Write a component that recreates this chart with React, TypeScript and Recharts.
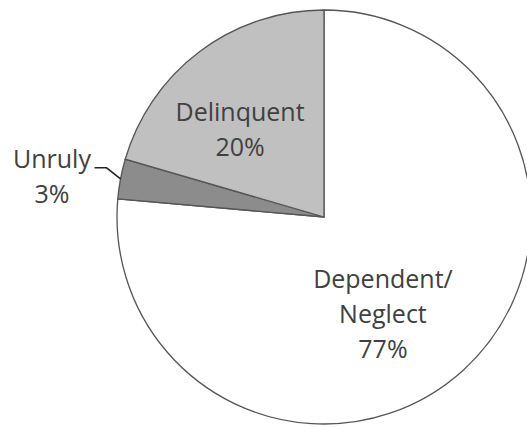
import React from "react";
import { PieChart, Pie, Cell } from "recharts";

const categories = ["Dependent/\nNeglect", "Unruly", "Delinquent"];
const shares = [76.4, 3.1, 20.5];
const percentLabels = ["77%", "3%", "20%"];
const fills = ["#ffffff", "#8c8c8c", "#c0c0c0"];

const data = categories.map((name, i) => ({ name, value: shares[i] }));

// label placement: radius (px) from centre, angle shift from slice mid-angle (deg)
const labelLayout = [
  { r: 113.5, shift: -11.2, leader: false },
  { r: 275, shift: 2.2, leader: true },
  { r: 120.6, shift: 7.2, leader: false },
];

const RADIAN = Math.PI / 180;
const LINE = 35;
const FONT = 25;

const renderLabel = (props: any) => {
  const { cx, cy, midAngle, outerRadius, index } = props;
  const lay = labelLayout[index];
  const a = (midAngle + lay.shift) * RADIAN;
  const x = cx + lay.r * Math.cos(-a);
  const y = cy + lay.r * Math.sin(-a);
  const lines = [...categories[index].split("\n"), percentLabels[index]];
  const n = lines.length;
  let leader = null;
  if (lay.leader) {
    const ex = cx + outerRadius * Math.cos(-midAngle * RADIAN);
    const ey = cy + outerRadius * Math.sin(-midAngle * RADIAN);
    const mx = ex - 14;
    const my = ey - 11;
    leader = (
      <path
        d={`M${ex},${ey} L${mx},${my} L${mx - 12},${my}`}
        stroke="#222"
        strokeWidth={1.5}
        fill="none"
      />
    );
  }
  return (
    <g>
      {leader}
      <text
        x={x}
        y={y}
        textAnchor="middle"
        fill="#404040"
        fontFamily="'Open Sans', sans-serif"
        fontSize={FONT}
      >
        {lines.map((t, i) => (
          <tspan key={i} x={x} y={y + (i - (n - 1) / 2) * LINE + 8.5}>
            {t}
          </tspan>
        ))}
      </text>
    </g>
  );
};

export default function App() {
  return (
    <div style={{ position: "absolute", left: 0, top: 0, background: "#fff" }}>
      <PieChart width={527} height={427} margin={{ top: 0, right: 0, bottom: 0, left: 0 }}>
        <Pie
          data={data}
          dataKey="value"
          nameKey="name"
          cx={324}
          cy={217}
          outerRadius={207}
          startAngle={90}
          endAngle={-270}
          stroke="#555555"
          strokeWidth={1.3}
          label={renderLabel}
          labelLine={false}
          isAnimationActive={false}
        >
          {data.map((d, i) => (
            <Cell key={d.name} fill={fills[i]} />
          ))}
        </Pie>
      </PieChart>
    </div>
  );
}
